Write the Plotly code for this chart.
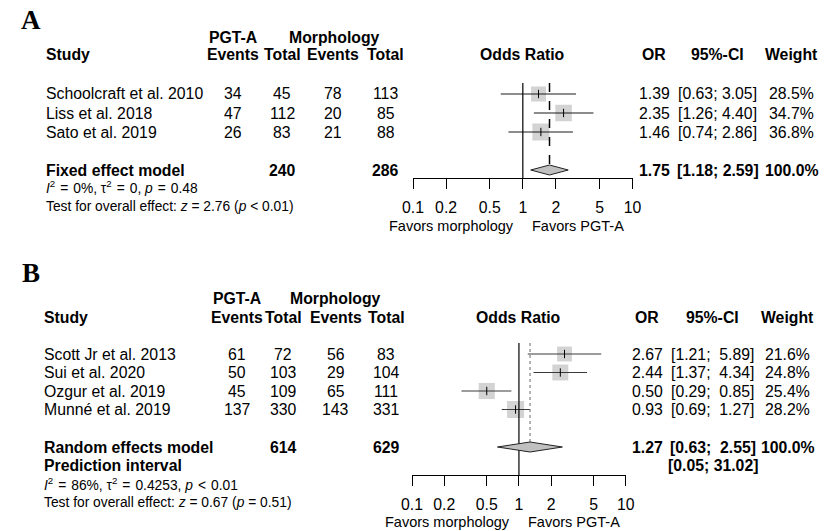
import plotly.graph_objects as go

# ---------------- data ----------------
studies_A = ["Schoolcraft et al. 2010", "Liss et al. 2018", "Sato et al. 2019"]
ev_pgt_A = [34, 47, 26]
tot_pgt_A = [45, 112, 83]
ev_mor_A = [78, 20, 21]
tot_mor_A = [113, 85, 88]
or_A = [1.39, 2.35, 1.46]
lo_A = [0.63, 1.26, 0.74]
hi_A = [3.05, 4.40, 2.86]
w_A = [28.5, 34.7, 36.8]
pool_A = {"label": "Fixed effect model", "tot_pgt": 240, "tot_mor": 286,
          "or": 1.75, "lo": 1.18, "hi": 2.59, "w": 100.0}
het_A = "<i>I</i><sup>2</sup> \u200a=\u200a 0%, τ<sup>2</sup> \u200a=\u200a 0, <i>p</i> \u200a=\u200a 0.48"
test_A = "Test for overall effect: <i>z</i> = 2.76 (<i>p</i> &lt; 0.01)"

studies_B = ["Scott Jr et al. 2013", "Sui et al. 2020", "Ozgur et al. 2019", "Munné et al. 2019"]
ev_pgt_B = [61, 50, 45, 137]
tot_pgt_B = [72, 103, 109, 330]
ev_mor_B = [56, 29, 65, 143]
tot_mor_B = [83, 104, 111, 331]
or_B = [2.67, 2.44, 0.50, 0.93]
lo_B = [1.21, 1.37, 0.29, 0.69]
hi_B = [5.89, 4.34, 0.85, 1.27]
w_B = [21.6, 24.8, 25.4, 28.2]
pool_B = {"label": "Random effects model", "tot_pgt": 614, "tot_mor": 629,
          "or": 1.27, "lo": 0.63, "hi": 2.55, "w": 100.0}
pred_B = [0.05, 31.02]
het_B = "<i>I</i><sup>2</sup> \u200a=\u200a 86%, τ<sup>2</sup> \u200a=\u200a 0.4253, <i>p</i> \u200a&lt;\u200a 0.01"
test_B = "Test for overall effect: <i>z</i> = 0.67 (<i>p</i> = 0.51)"

tick_vals = [0.1, 0.2, 0.5, 1, 2, 5, 10]
tick_text = ["0.1", "0.2", "0.5", "1", "2", "5", "10"]

# ---------------- layout constants ----------------
W, H = 828, 531
SANS = "Liberation Sans, Arial, sans-serif"
SERIF = "Liberation Serif, Times New Roman, serif"
FS = 15.8
FS_HET = 13.8
FS_LR = 14.5

panels = [
    dict(key="A", xaxis="x", yaxis="y", studies=studies_A, ev_pgt=ev_pgt_A, tot_pgt=tot_pgt_A,
         ev_mor=ev_mor_A, tot_mor=tot_mor_A, orv=or_A, lo=lo_A, hi=hi_A, w=w_A,
         pool=pool_A, het=het_A, test=test_A, pred=None,
         letter=(21, 20), hdr1=37, hdr2=55, rows=[94, 113, 132], pool_y=170,
         pred_y=None, het_y=187, test_y=206, axis_y=178, top_y=83, favors_y=226,
         ytop=0, dom=(412, 637), ci_color="#1a1a1a",
         pool_line=dict(dash="dash", color="black", width=1.5),
         cx=dict(study=35, ev_pgt=227, tot_pgt=278, ev_mor=330, tot_mor=384,
                 orc=659, ci=724, w=800, lab_pgt=227, lab_mor=332)),
    dict(key="B", xaxis="x2", yaxis="y2", studies=studies_B, ev_pgt=ev_pgt_B, tot_pgt=tot_pgt_B,
         ev_mor=ev_mor_B, tot_mor=tot_mor_B, orv=or_B, lo=lo_B, hi=hi_B, w=w_B,
         pool=pool_B, het=het_B, test=test_B, pred=pred_B,
         letter=(20, 273), hdr1=298, hdr2=317, rows=[354, 372.5, 391, 409.5],
         pool_y=447, pred_y=465, het_y=484, test_y=502, axis_y=475, top_y=343,
         favors_y=522, ytop=262, dom=(411, 630), ci_color="#3a3a3a",
         pool_line=dict(dash="dot", color="#808080", width=1.2),
         cx=dict(study=33, ev_pgt=232, tot_pgt=279, ev_mor=333, tot_mor=384.5,
                 orc=652, ci=719, w=796, lab_pgt=232, lab_mor=333)),
]

fig = go.Figure()
annotations = []


def ann(px, py, text, size=FS, bold=False, anchor="center", family=SANS, color="black"):
    if bold:
        text = "<b>" + text + "</b>"
    annotations.append(dict(x=px / W, y=1 - py / H, xref="paper", yref="paper",
                            text=text, showarrow=False, xanchor=anchor, yanchor="middle",
                            font=dict(family=family, size=size, color=color),
                            borderpad=0))


def fmt_ci(lo, hi, wlo, whi):
    a = ("%.2f" % lo).rjust(wlo).replace(" ", "\u00a0")
    b = ("%.2f" % hi).rjust(whi).replace(" ", "\u00a0")
    return "[" + a + "; " + b + "]"


for p in panels:
    xa, ya = p["xaxis"], p["yaxis"]
    cx = p["cx"]
    ann(p["letter"][0], p["letter"][1], "<b>%s</b>" % p["key"], size=27, family=SERIF)
    ann(cx["lab_pgt"], p["hdr1"], "PGT-A", bold=True)
    ann(cx["lab_mor"], p["hdr1"], "Morphology", bold=True)
    ann(cx["study"], p["hdr2"], "Study", bold=True, anchor="left")
    ann(cx["ev_pgt"], p["hdr2"], "Events", bold=True)
    ann(cx["tot_pgt"], p["hdr2"], "Total", bold=True)
    ann(cx["ev_mor"], p["hdr2"], "Events", bold=True)
    ann(cx["tot_mor"], p["hdr2"], "Total", bold=True)
    d0, d1 = p["dom"]
    null_px = (d0 + d1) / 2
    ann(null_px, p["hdr2"], "Odds Ratio", bold=True)
    ann(cx["orc"], p["hdr2"], "OR", bold=True)
    ann(cx["ci"], p["hdr2"], "95%-CI", bold=True)
    ann(cx["w"], p["hdr2"], "Weight", bold=True)

    allhi = p["hi"] + [p["pool"]["hi"]] + (p["pred"][1:] if p["pred"] else [])
    alllo = p["lo"] + [p["pool"]["lo"]] + (p["pred"][:1] if p["pred"] else [])
    whi = max(len("%.2f" % v) for v in allhi)
    wlo = max(len("%.2f" % v) for v in alllo)

    for i, s in enumerate(p["studies"]):
        y = p["rows"][i]
        ann(cx["study"], y, s, anchor="left")
        ann(cx["ev_pgt"], y, str(p["ev_pgt"][i]))
        ann(cx["tot_pgt"], y, str(p["tot_pgt"][i]))
        ann(cx["ev_mor"], y, str(p["ev_mor"][i]))
        ann(cx["tot_mor"], y, str(p["tot_mor"][i]))
        ann(cx["orc"], y, "%.2f" % p["orv"][i])
        ann(cx["ci"], y, fmt_ci(p["lo"][i], p["hi"][i], wlo, whi))
        ann(cx["w"], y, "%.1f%%" % p["w"][i])

    pool = p["pool"]
    ann(cx["study"], p["pool_y"], pool["label"], bold=True, anchor="left")
    ann(cx["tot_pgt"], p["pool_y"], str(pool["tot_pgt"]), bold=True)
    ann(cx["tot_mor"], p["pool_y"], str(pool["tot_mor"]), bold=True)
    ann(cx["orc"], p["pool_y"], "%.2f" % pool["or"], bold=True)
    ann(cx["ci"], p["pool_y"], fmt_ci(pool["lo"], pool["hi"], wlo, whi), bold=True)
    ann(cx["w"], p["pool_y"], "%.1f%%" % pool["w"], bold=True)
    if p["pred"]:
        ann(cx["study"], p["pred_y"], "Prediction interval", bold=True, anchor="left")
        ann(cx["ci"], p["pred_y"], fmt_ci(p["pred"][0], p["pred"][1], wlo, whi), bold=True)
    ann(cx["study"], p["het_y"], p["het"], size=FS_HET, anchor="left")
    ann(cx["study"], p["test_y"], p["test"], size=FS_HET, anchor="left")

    ann(null_px - 8, p["favors_y"], "Favors morphology", size=FS_LR, anchor="right")
    ann(null_px + 8, p["favors_y"], "Favors PGT-A", size=FS_LR, anchor="left")

    # ---- graphical marks on the log axis ----
    wmax = max(p["w"])
    sizes = [17 * (w / wmax) ** 0.5 for w in p["w"]]
    fig.add_trace(go.Scatter(x=p["orv"], y=p["rows"], xaxis=xa, yaxis=ya, mode="markers",
                             marker=dict(symbol="square", size=sizes, color="#c0c0c0",
                                         line=dict(width=0)),
                             hoverinfo="skip", showlegend=False, cliponaxis=False))
    cxs, cys = [], []
    for lo, hi, y in zip(p["lo"], p["hi"], p["rows"]):
        cxs += [max(lo, 0.1), min(hi, 10), None]
        cys += [y, y, None]
    fig.add_trace(go.Scatter(x=cxs, y=cys, xaxis=xa, yaxis=ya, mode="lines",
                             line=dict(color=p["ci_color"], width=1.1),
                             hoverinfo="skip", showlegend=False))
    fig.add_trace(go.Scatter(x=p["orv"], y=p["rows"], xaxis=xa, yaxis=ya, mode="markers",
                             marker=dict(symbol="line-ns", size=6,
                                         line=dict(width=1, color="black")),
                             hoverinfo="skip", showlegend=False, cliponaxis=False))
    fig.add_trace(go.Scatter(x=[1, 1], y=[p["top_y"], p["axis_y"]], xaxis=xa, yaxis=ya,
                             mode="lines", line=dict(color="black", width=1.2),
                             hoverinfo="skip", showlegend=False))
    fig.add_trace(go.Scatter(x=[pool["or"], pool["or"]], y=[p["top_y"], p["pool_y"] - 5],
                             xaxis=xa, yaxis=ya, mode="lines", line=p["pool_line"],
                             hoverinfo="skip", showlegend=False))
    yc = p["pool_y"]
    fig.add_trace(go.Scatter(x=[pool["lo"], pool["or"], pool["hi"], pool["or"], pool["lo"]],
                             y=[yc, yc - 5, yc, yc + 5, yc], xaxis=xa, yaxis=ya,
                             mode="lines", fill="toself", fillcolor="#c0c0c0",
                             line=dict(color="#222222", width=1),
                             hoverinfo="skip", showlegend=False))


def xaxis_cfg(p, anchor):
    return dict(type="log", range=[-1, 1], showgrid=False, zeroline=False,
                showline=True, linecolor="black", linewidth=1, ticks="outside",
                ticklen=10, tickwidth=1, tickcolor="black", tickvals=tick_vals,
                ticktext=tick_text, tickfont=dict(family=SANS, size=FS, color="black"),
                anchor=anchor, fixedrange=True, ticklabelstandoff=5,
                domain=[p["dom"][0] / W, p["dom"][1] / W])


def yaxis_cfg(p, anchor):
    return dict(domain=[1 - p["axis_y"] / H, 1 - p["ytop"] / H],
                range=[p["axis_y"], p["ytop"]], visible=False, fixedrange=True,
                anchor=anchor)


pa, pb = panels
fig.update_layout(
    width=W, height=H, margin=dict(l=0, r=0, t=0, b=0),
    paper_bgcolor="white", plot_bgcolor="white",
    showlegend=False,
    xaxis=xaxis_cfg(pa, "y"),
    yaxis=yaxis_cfg(pa, "x"),
    xaxis2=xaxis_cfg(pb, "y2"),
    yaxis2=yaxis_cfg(pb, "x2"),
    annotations=annotations,
)

fig.write_html("out.html", config={"responsive": False, "displayModeBar": False},
               post_script="document.body.style.margin='0px';")
